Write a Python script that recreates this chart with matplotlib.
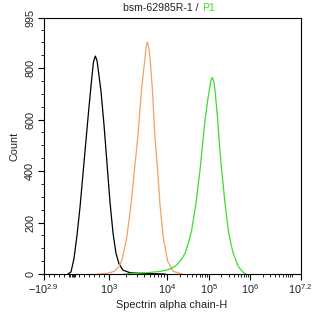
import numpy as np
import matplotlib
matplotlib.use("Agg")
from matplotlib import pyplot as plt
from matplotlib.ticker import FixedLocator, NullFormatter

plt.rcParams['font.family'] = ['Liberation Sans', 'DejaVu Sans']
plt.rcParams['mathtext.fontset'] = 'custom'
plt.rcParams['mathtext.rm'] = 'Liberation Sans'
plt.rcParams['mathtext.it'] = 'Liberation Sans'

# DATA (intensity on biexponential axis, count)
black_x = [-123, -41, 41, 123, 206, 288, 370, 452, 534, 575, 625, 671, 699, 781, 863, 945,
           1040, 1172, 1320, 1487, 1743, 2302, 4176, 9237]
black_y = [0, 8, 60, 150, 260, 390, 520, 650, 770, 825, 847, 830, 800, 710, 580, 430,
           280, 160, 80, 40, 15, 5, 2, 0]

orange_x = [699, 890, 1040, 1269, 1487, 1675, 2020, 2395, 2731, 3125, 3663, 4176, 4379,
            4575, 4797, 5093, 5579, 6211, 6915, 7575, 8637, 10391, 14125, 22760]
orange_y = [0, 2, 5, 12, 30, 55, 140, 269, 399, 529, 723, 840, 885,
            902, 885, 840, 723, 529, 399, 269, 140, 49, 10, 0]

green_x = [1888, 2807, 4467, 7575, 9612, 12940, 17022, 21544, 26827, 32500, 38730,
           49030, 61070, 71960, 80310, 92100, 101700, 110600, 120400, 130200, 140100,
           163000, 180300, 204000, 245600, 295600, 344100, 391500, 518300, 686400, 798700]
green_y = [0, 3, 5, 10, 15, 22, 35, 55, 80, 120, 171,
           275, 404, 520, 599, 670, 715, 750, 764, 750, 715,
           599, 500, 404, 275, 171, 115, 80, 29, 6, 0]

x_ticks = [-10**2.9, 1e3, 1e4, 1e5, 1e6, 10**7.2]
x_labels = [r'$-10^{2.9}$', r'$10^{3}$', r'$10^{4}$', r'$10^{5}$', r'$10^{6}$', r'$10^{7.2}$']
y_ticks = [0, 200, 400, 600, 800, 995]

# biexponential-like axis: linear below 10^3, log above
XMIN = -10**2.9
DEC = [3, 4, 5, 6, 7.2, 12]
POS = [65.5, 123.5, 165.5, 206.5, 257, 257 + 4.8 * 42.08]


def fwd(v):
    v = np.asarray(v, dtype=float)
    lin = (v - XMIN) / (1000 - XMIN) * 65.5
    lg = np.log10(np.maximum(v, 1000))
    return np.where(v <= 1000, lin, np.interp(lg, DEC, POS))


def inv(p):
    p = np.asarray(p, dtype=float)
    lin = p / 65.5 * (1000 - XMIN) + XMIN
    lg = np.interp(p, POS, DEC)
    return np.where(p <= 65.5, lin, 10 ** lg)


fig = plt.figure(figsize=(3.14, 3.17), dpi=100)
ax = fig.add_axes([43.5 / 314, 43 / 317, 257 / 314, 256 / 317])
ax.set_xscale('function', functions=(fwd, inv))

ax.plot(black_x, black_y, color='black', lw=0.9)
ax.plot(orange_x, orange_y, color='#F2A266', lw=0.9)
ax.plot(green_x, green_y, color='#3FDB2F', lw=0.9)

ax.set_xlim(XMIN, 10**7.2)
ax.set_ylim(0, 995)

ax.xaxis.set_major_locator(FixedLocator(x_ticks))
ax.set_xticklabels(x_labels)
minor = list(np.linspace(XMIN, 1000, 14)[1:-1]) + [-60, -20, 20, 60]
for k in range(3, 7):
    minor += [m * 10**k for m in range(2, 10)]
minor.append(1e7)
ax.xaxis.set_minor_locator(FixedLocator(minor))
ax.xaxis.set_minor_formatter(NullFormatter())

ax.set_yticks(y_ticks)
ax.set_yticklabels([str(t) for t in y_ticks], rotation=90, va='center')
ax.yaxis.set_minor_locator(FixedLocator([t for t in range(50, 995, 50) if t % 200]))

ax.tick_params(which='major', length=4, width=0.8, labelsize=7.8, pad=2, colors='black')
ax.tick_params(which='minor', length=2, width=0.6)
ax.tick_params(axis='x', labelcolor='#222222')
ax.tick_params(axis='y', labelcolor='#222222')
for s in ax.spines.values():
    s.set_linewidth(0.8)

ax.set_xlabel('Spectrin alpha chain-H', fontsize=7.8, color='#222222', labelpad=3)
ax.set_ylabel('Count', fontsize=7.8, color='#222222', labelpad=4)

fig.text(201 / 314, 1 - 8 / 317, 'bsm-62985R-1 / ', ha='right', va='center',
         fontsize=7.6, color='#222222')
fig.text(202 / 314, 1 - 8 / 317, 'P1', ha='left', va='center',
         fontsize=7.6, color='#3FDB2F')

fig.savefig('out.png', dpi=100)
